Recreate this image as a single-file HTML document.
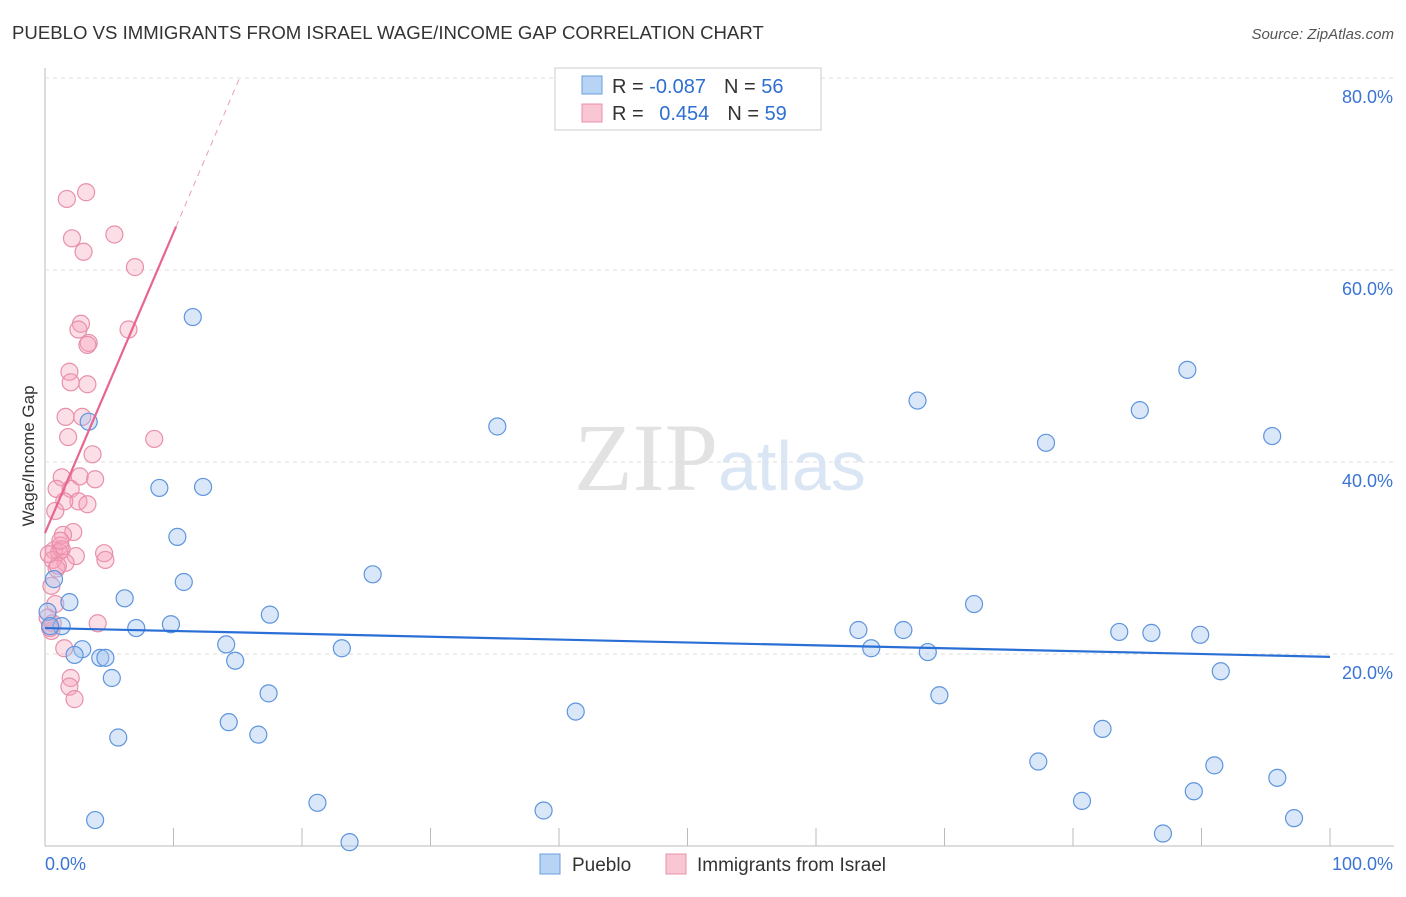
<!DOCTYPE html>
<html><head><meta charset="utf-8"><style>
body{margin:0;background:#fff;font-family:"Liberation Sans",sans-serif;}
#wrap{position:relative;width:1406px;height:892px;}
</style></head><body>
<div id="wrap">
<svg id="svg" width="1406" height="892" xmlns="http://www.w3.org/2000/svg">
<text x="12" y="39" font-size="18.6" fill="#333">PUEBLO VS IMMIGRANTS FROM ISRAEL WAGE/INCOME GAP CORRELATION CHART</text>
<text x="1394" y="39" font-size="15" fill="#555" text-anchor="end" font-style="italic">Source: ZipAtlas.com</text>
<text x="34" y="456" font-size="17" fill="#333" text-anchor="middle" transform="rotate(-90 34 456)">Wage/Income Gap</text>
<text x="718" y="490" font-size="96" fill="#e2e2e2" text-anchor="end" font-family="Liberation Serif">ZIP</text>
<text x="718" y="490" font-size="70" fill="#dbe6f5">atlas</text>
<g id="grid"></g><g id="pts"></g><g id="lines"></g>
<g>
<rect x="555" y="68" width="266" height="62" fill="#fff" stroke="#ccc"/>
<rect x="582" y="76" width="20" height="18" fill="#b8d4f4" stroke="#6a9ee0"/>
<rect x="582" y="104" width="20" height="18" fill="#f9c6d4" stroke="#e890aa"/>
<text x="612" y="93" font-size="20" fill="#333">R = <tspan fill="#2f6fd0">-0.087</tspan><tspan dx="18">N = </tspan><tspan fill="#2f6fd0">56</tspan></text>
<text x="612" y="120" font-size="20" fill="#333">R = <tspan fill="#2f6fd0" dx="10">0.454</tspan><tspan dx="18">N = </tspan><tspan fill="#2f6fd0">59</tspan></text>
</g>
<g>
<rect x="540" y="854" width="20" height="20" fill="#b8d4f4" stroke="#6a9ee0"/>
<text x="572" y="871" font-size="19" fill="#333">Pueblo</text>
<rect x="666" y="854" width="20" height="20" fill="#f9c6d4" stroke="#e890aa"/>
<text x="697" y="871" font-size="19" fill="#333">Immigrants from Israel</text>
</g>
</svg></div>
<script>
const blueX=[11.5,3.4,35.2,8.9,12.3,10.3,25.5,10.8,0.7,1.9,6.2,1.3,7.1,9.8,17.5,14.1,23.1,2.9,2.3,4.3,4.7,14.8,5.2,17.4,14.3,5.7,16.6,41.3,3.9,21.2,23.7,38.8,67.9,77.9,85.2,88.9,95.5,72.3,63.3,64.3,66.8,68.7,83.6,86.1,89.9,69.6,91.5,82.3,77.3,91.0,95.9,80.7,89.4,87.0,97.2,0.2,0.4];
const blueY=[55.1,44.2,43.7,37.3,37.4,32.2,28.3,27.5,27.8,25.4,25.8,22.9,22.7,23.1,24.1,21.0,20.6,20.5,19.9,19.6,19.6,19.3,17.5,15.9,12.9,11.3,11.6,14.0,2.7,4.5,0.4,3.7,46.4,42.0,45.4,49.6,42.7,25.2,22.5,20.6,22.5,20.2,22.3,22.2,22.0,15.7,18.2,12.2,8.8,8.4,7.1,4.7,5.7,1.3,2.9,24.4,22.9];
const pinkX=[3.2,1.7,2.1,5.4,3.0,7.0,2.8,2.6,3.4,3.3,6.5,1.9,2.0,3.3,1.6,2.9,1.8,8.5,3.7,1.3,2.7,3.9,0.9,2.0,2.6,3.3,1.5,0.8,2.2,1.4,1.2,0.7,1.1,1.3,4.6,2.4,0.6,1.6,0.9,4.7,0.5,0.8,0.6,0.5,4.1,1.5,2.0,1.9,2.3,0.2,0.4,1.2,1.0,0.3];
const pinkY=[68.1,67.4,63.3,63.7,61.9,60.3,54.4,53.8,52.4,52.2,53.8,49.4,48.3,48.1,44.7,44.7,42.6,42.4,40.8,38.4,38.5,38.2,37.2,37.2,35.9,35.6,35.9,34.9,32.7,32.4,31.3,30.8,30.6,30.9,30.5,30.2,29.8,29.5,28.9,29.8,27.1,25.2,23.2,22.4,23.2,20.6,17.5,16.6,15.3,23.8,22.7,31.8,29.2,30.4];
const yTicks=[20,40,60,80];
const xTickLabels=["0.0%","100.0%"];
const blueTrend=[22.7,19.7];
const pinkTrend=[32.6,3.13];
const X=v=>45+v*12.85, Y=v=>846-v*9.6;
const NS="http://www.w3.org/2000/svg";
function mk(p,t,a){const e=document.createElementNS(NS,t);for(const k in a)e.setAttribute(k,a[k]);p.appendChild(e);return e;}
const grid=document.getElementById('grid');
const ax=mk(grid,'line',{x1:45,y1:68,x2:45,y2:846,stroke:'#bbb'});


const bx=mk(grid,'line',{x1:45,y1:846,x2:1394,y2:846,stroke:'#bbb'});


for(let i=1;i<=10;i++){const t=mk(grid,'line',{x1:45+i*128.5,y1:828,x2:45+i*128.5,y2:846,stroke:'#bbb'});

}
yTicks.forEach(v=>{const g=mk(grid,'line',{x1:45,y1:Y(v),x2:1394,y2:Y(v),stroke:'#ddd','stroke-dasharray':'4 4'});


const t=mk(grid,'text',{x:1393,y:Y(v)+25,'font-size':18,fill:'#3b74d4','text-anchor':'end'});t.textContent=v.toFixed(1)+'%';

});
[[0,45,'start'],[1,1393,'end']].forEach(([i,x,a])=>{const t=mk(grid,'text',{x:x,y:870,'font-size':18,fill:'#3b74d4','text-anchor':a});t.textContent=xTickLabels[i];

});
const pts=document.getElementById('pts');
pinkX.forEach((x,i)=>{const c=mk(pts,'circle',{cx:X(x),cy:Y(pinkY[i]),r:8.5,fill:'rgba(245,160,185,0.35)',stroke:'#e890aa','stroke-width':1.2});

});
blueX.forEach((x,i)=>{const c=mk(pts,'circle',{cx:X(x),cy:Y(blueY[i]),r:8.5,fill:'rgba(160,195,240,0.4)',stroke:'#5e95de','stroke-width':1.2});

});
const ln=document.getElementById('lines');
const b=mk(ln,'line',{x1:X(0),y1:Y(blueTrend[0]),x2:X(100),y2:Y(blueTrend[1]),stroke:'#2a6fd6','stroke-width':2.2});


const pe=x=>pinkTrend[0]+pinkTrend[1]*x;
const p=mk(ln,'line',{x1:X(0),y1:Y(pe(0)),x2:X(10.2),y2:Y(pe(10.2)),stroke:'#e8668e','stroke-width':2.2});


const pd=mk(ln,'line',{x1:X(10.2),y1:Y(pe(10.2)),x2:X(15.1),y2:Y(pe(15.1)),stroke:'#e8a0b5','stroke-width':1,'stroke-dasharray':'6 5'});


</script>
</body></html>
